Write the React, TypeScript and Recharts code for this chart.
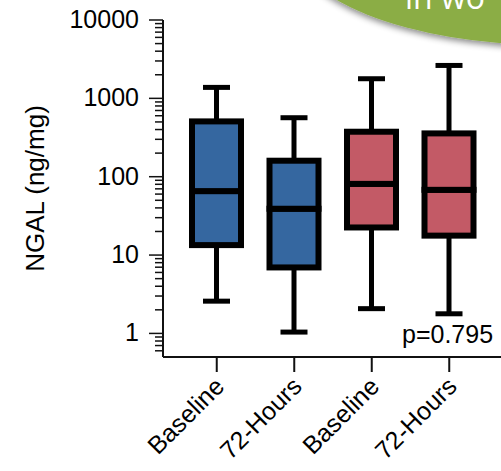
import { ComposedChart, Bar, XAxis, YAxis } from "recharts";

// box plot values (ng/mg)
const categories = ["Baseline", "72-Hours", "Baseline", "72-Hours"];
const whiskerLow = [2.58, 1.04, 2.07, 1.78];
const q1 = [13.4, 6.95, 22.5, 17.7];
const median = [65.5, 39, 81, 68];
const q3 = [508, 160, 375, 357];
const whiskerHigh = [1380, 566, 1780, 2630];

const boxColors = ["#3567a0", "#3567a0", "#c35a66", "#c35a66"];

const majorTicks = [1, 10, 100, 1000, 10000];
const minorSteps = [2, 3, 4, 5, 6, 7, 8, 9];
const belowOneTicks = [0.6, 0.7, 0.8, 0.9];
const pValueLabel = "p=0.795";

const data = categories.map((name, i) => ({
    name,
    whisker: [whiskerLow[i], whiskerHigh[i]],
    lower: [q1[i], median[i]],
    upper: [median[i], q3[i]],
}));

const yTicks = [
    ...belowOneTicks,
    ...majorTicks,
    ...majorTicks.slice(0, -1).flatMap(m => minorSteps.map(s => m * s)),
].sort((a, b) => a - b);

const FONT = "'Liberation Sans', Arial, Helvetica, sans-serif";

function YTick({ x, y, payload }: any) {
    const major = majorTicks.includes(payload.value);
    return (
        <g>
            <line x1={x - (major ? 14 : 8)} x2={x} y1={y} y2={y} stroke="#111" strokeWidth={1.5} />
            {major && (
                <text x={x - 24} y={y} dy={8} textAnchor="end" fontSize={25} fontFamily={FONT} fill="#000">
                    {payload.value}
                </text>
            )}
        </g>
    );
}

function XTick({ x, y, payload }: any) {
    return (
        <text
            x={x + 9}
            y={y + 16}
            textAnchor="end"
            fontSize={25}
            fontFamily={FONT}
            fill="#000"
            transform={`rotate(-45 ${x + 9} ${y + 16})`}
        >
            {payload.value}
        </text>
    );
}

function WhiskerShape({ x, y, width, height }: any) {
    const top = Math.min(y, y + height);
    const bottom = Math.max(y, y + height);
    const cx = x + width / 2;
    return (
        <g stroke="#000" strokeWidth={5}>
            <line x1={cx} x2={cx} y1={top} y2={bottom} />
            <line x1={cx - 13.5} x2={cx + 13.5} y1={top} y2={top} />
            <line x1={cx - 13.5} x2={cx + 13.5} y1={bottom} y2={bottom} />
        </g>
    );
}

function BoxShape({ x, y, width, height, index }: any) {
    const top = Math.min(y, y + height);
    return (
        <rect
            x={x}
            y={top}
            width={width}
            height={Math.abs(height)}
            fill={boxColors[index]}
            stroke="#000"
            strokeWidth={6}
        />
    );
}

function YLabel({ viewBox }: any) {
    const cy = viewBox.y + viewBox.height / 2;
    return (
        <text
            x={44}
            y={cy}
            textAnchor="middle"
            fontSize={26}
            fontFamily={FONT}
            fill="#000"
            transform={`rotate(-90 44 ${cy})`}
        >
            NGAL (ng/mg)
        </text>
    );
}

export default function App() {
    return (
        <div style={{ position: "absolute", left: 0, top: 0, width: 501, height: 471, overflow: "hidden", background: "#fff" }}>
            <ComposedChart
                width={530}
                height={471}
                data={data}
                margin={{ top: 20, right: 10, bottom: 0, left: 0 }}
                barSize={49}
                barGap={-49}
            >
                <XAxis
                    dataKey="name"
                    height={114}
                    padding={{ left: 15, right: 32 }}
                    axisLine={{ stroke: "#111", strokeWidth: 2 }}
                    tickLine={{ stroke: "#111", strokeWidth: 2 }}
                    tickSize={15}
                    tickMargin={0}
                    interval={0}
                    tick={<XTick />}
                />
                <YAxis
                    scale="log"
                    domain={[0.5, 10000]}
                    allowDataOverflow
                    ticks={yTicks}
                    interval={0}
                    width={163}
                    tickSize={0}
                    tickMargin={0}
                    tickLine={false}
                    axisLine={{ stroke: "#111", strokeWidth: 2 }}
                    tick={<YTick />}
                    label={{ content: <YLabel /> }}
                />
                <Bar dataKey="whisker" isAnimationActive={false} shape={<WhiskerShape />} />
                <Bar dataKey="lower" isAnimationActive={false} shape={<BoxShape />} />
                <Bar dataKey="upper" isAnimationActive={false} shape={<BoxShape />} />
            </ComposedChart>
            <svg width={501} height={471} style={{ position: "absolute", left: 0, top: 0, pointerEvents: "none" }}>
                <defs>
                    <filter id="ovalShadow" x="-20%" y="-20%" width="140%" height="160%">
                        <feDropShadow dx={0} dy={3} stdDeviation={3} floodColor="#000" floodOpacity={0.45} />
                    </filter>
                </defs>
                <ellipse cx={550} cy={-60} rx={260} ry={105} fill="#8bad45" filter="url(#ovalShadow)" />
                <text x={405} y={9} fontSize={32} fontFamily="'Open Sans', 'Noto Sans', sans-serif" fill="#fff">
                    in wo
                </text>
                <text x={402} y={343} fontSize={25} fontFamily={FONT} fill="#000">
                    {pValueLabel}
                </text>
            </svg>
        </div>
    );
}
